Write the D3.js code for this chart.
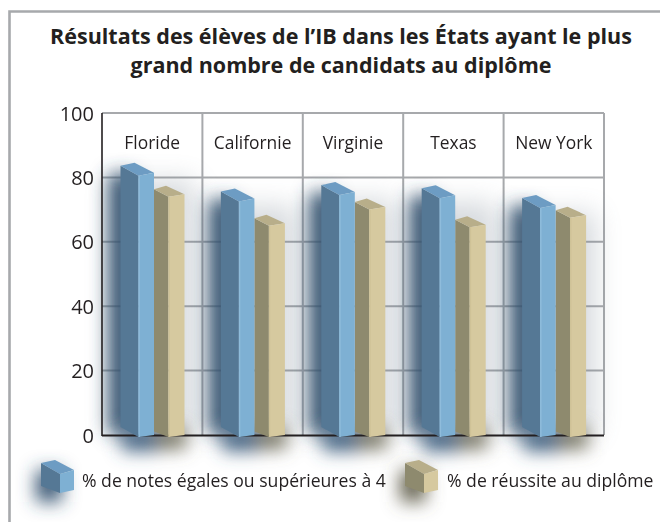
<!DOCTYPE html>
<html><head><meta charset="utf-8">
<script src="https://cdn.jsdelivr.net/npm/d3@7"></script>
<style>html,body{margin:0;padding:0;background:#fff}svg{display:block}text{font-family:"Open Sans","Noto Sans",sans-serif;fill:#231f20}</style>
</head><body><div id="c"></div>
<script>
const categories=["Floride","Californie","Virginie","Texas","New York"];
const notes=[80.5,72.5,74.5,73.5,70.5];
const reussite=[74,65,70,64.5,67.5];
const yTicks=[0,20,40,60,80,100];
const titleLines=["Résultats des élèves de l’IB dans les États ayant le plus","grand nombre de candidats au diplôme"];
const seriesNames=["% de notes égales ou supérieures à 4","% de réussite au diplôme"];

const W=660,H=522;
const svg=d3.select("#c").append("svg").attr("width",W).attr("height",H);
const defs=svg.append("defs");
function blur(id,s){defs.append("filter").attr("id",id).attr("filterUnits","userSpaceOnUse").attr("x",0).attr("y",0).attr("width",W).attr("height",H)
  .append("feGaussianBlur").attr("stdDeviation",s);}
blur("blur",9);blur("wide",13);blur("soft",9);
svg.append("path").attr("d","M9.5 522V11.5H660").attr("fill","none").attr("stroke","#a7a9ac").attr("stroke-width",2.6);

svg.selectAll("text.title").data(titleLines).join("text").attr("class","title")
  .attr("x",341).attr("y",(d,i)=>44+i*29).attr("text-anchor","middle")
  .attr("font-size",21.5).attr("font-weight",700).text(d=>d);

const y=d3.scaleLinear().domain([0,100]).range([435,113]);
const x=d3.scaleBand().domain(categories).range([102,604]);
const grid=svg.append("g");
grid.selectAll("line.h").data(yTicks.filter(d=>d>0)).join("line").attr("class","h")
  .attr("x1",102).attr("x2",604).attr("y1",d=>y(d)).attr("y2",d=>y(d)).attr("stroke","#a7a9ac").attr("stroke-width",2);
grid.selectAll("line.v").data(categories).join("line").attr("class","v")
  .attr("x1",d=>x(d)+x.bandwidth()).attr("x2",d=>x(d)+x.bandwidth()).attr("y1",113).attr("y2",435).attr("stroke","#a7a9ac").attr("stroke-width",2);

const palette=[{side:"#557895",front:"#7eb0d3",top:"#6d9cc3",edge:"#8fbcdb",shadow:"#2f506e"},
               {side:"#8e8a6e",front:"#d6c99f",top:"#b8ae8a",edge:"#cfc297",shadow:"#5f5c4a"}];

// shadows
const wash=svg.append("g").attr("filter","url(#wide)").attr("opacity",0.28);
const sh=svg.append("g").attr("filter","url(#blur)");
const ground=svg.append("g").attr("filter","url(#soft)");
function rectOn(g,x0,w,y0,y1,fill,op){g.append("rect").attr("x",x0).attr("y",y0).attr("width",w).attr("height",y1-y0).attr("fill",fill).attr("opacity",op||1);}
categories.forEach((c,i)=>{
  rectOn(wash,x(c)+8,84,y(notes[i])+4,y(0),"#6d7a88");
  rectOn(sh,x(c)+7,26,y(notes[i])-2,y(0)-2,palette[0].shadow,0.95);
  rectOn(ground,x(c)+20,36,y(0)-8,y(0)+16,"#3f5f80",0.95);
  rectOn(ground,x(c)+54,30,y(0)-8,y(0)+14,"#6f6b58",0.9);
});

function bar(g,px,val,p,sw,fw,dy,backDx,backDy,rightDy,bottomSide){
  const yf=y(val),y0=y(0)+2;
  const fx=px, sx=px-sw;
  g.append("path").attr("d",d3.line()([[sx,yf-dy],[fx,yf],[fx,y0],[sx,y0-bottomSide]])).attr("fill",p.side);
  g.append("path").attr("d",d3.line()([[sx,yf-dy],[sx+backDx,yf-backDy],[fx+fw,yf-rightDy],[fx,yf]])).attr("fill",p.top);
  g.append("path").attr("d",d3.line()([[fx,yf],[fx+fw,yf-rightDy],[fx+fw,y0-2],[fx,y0]])).attr("fill",p.front);
  g.append("rect").attr("x",fx).attr("y",yf).attr("width",1.4).attr("height",y0-yf).attr("fill",p.edge);
}

svg.append("line").attr("x1",102).attr("x2",102).attr("y1",113).attr("y2",436).attr("stroke","#231f20").attr("stroke-width",1.6);
svg.append("line").attr("x1",102).attr("x2",604).attr("y1",435.5).attr("y2",435.5).attr("stroke","#231f20").attr("stroke-width",2);

const bars=svg.append("g");
categories.forEach((c,i)=>{
  bar(bars,x(c)+66.5,reussite[i],palette[1],14.5,16,7.5,12,11,2.5,5.5);
  bar(bars,x(c)+36.5,notes[i],palette[0],18,15.5,10,14,13,3,10);
});

svg.selectAll("text.cat").data(categories).join("text").attr("class","cat")
  .attr("x",d=>x(d)+x.bandwidth()/2).attr("y",149).attr("text-anchor","middle").attr("font-size",17.4).attr("font-weight",400).text(d=>d);
const yAxis=d3.axisLeft(y).tickValues(yTicks).tickSize(0).tickPadding(8);
const ga=svg.append("g").attr("transform","translate(102,0)").call(yAxis);
ga.select(".domain").remove();
ga.selectAll("text").attr("font-size",20).attr("font-weight",400).attr("dy",".35em");

// legend
const lg=[{x:60,tx:82,p:palette[0]},{x:424,tx:447,p:palette[1]}];
lg.forEach((l,i)=>{
  const g=svg.append("g");
  const xs=l.x;
  rectOn(g.append("g").attr("filter","url(#blur)"),xs-24,26,470,502,l.p.shadow,0.95);
  g.append("path").attr("d",d3.line()([[xs-19,463],[xs,474],[xs,493],[xs-19,486]])).attr("fill",l.p.side);
  g.append("path").attr("d",d3.line()([[xs-19,463],[xs-5,460],[xs+14,470],[xs,474]])).attr("fill",l.p.top);
  g.append("path").attr("d",d3.line()([[xs,474],[xs+14,470],[xs+14,490],[xs,493]])).attr("fill",l.p.front);
  svg.append("text").attr("x",l.tx).attr("y",487).attr("font-size",17.6).text(seriesNames[i]);
});
</script></body></html>
